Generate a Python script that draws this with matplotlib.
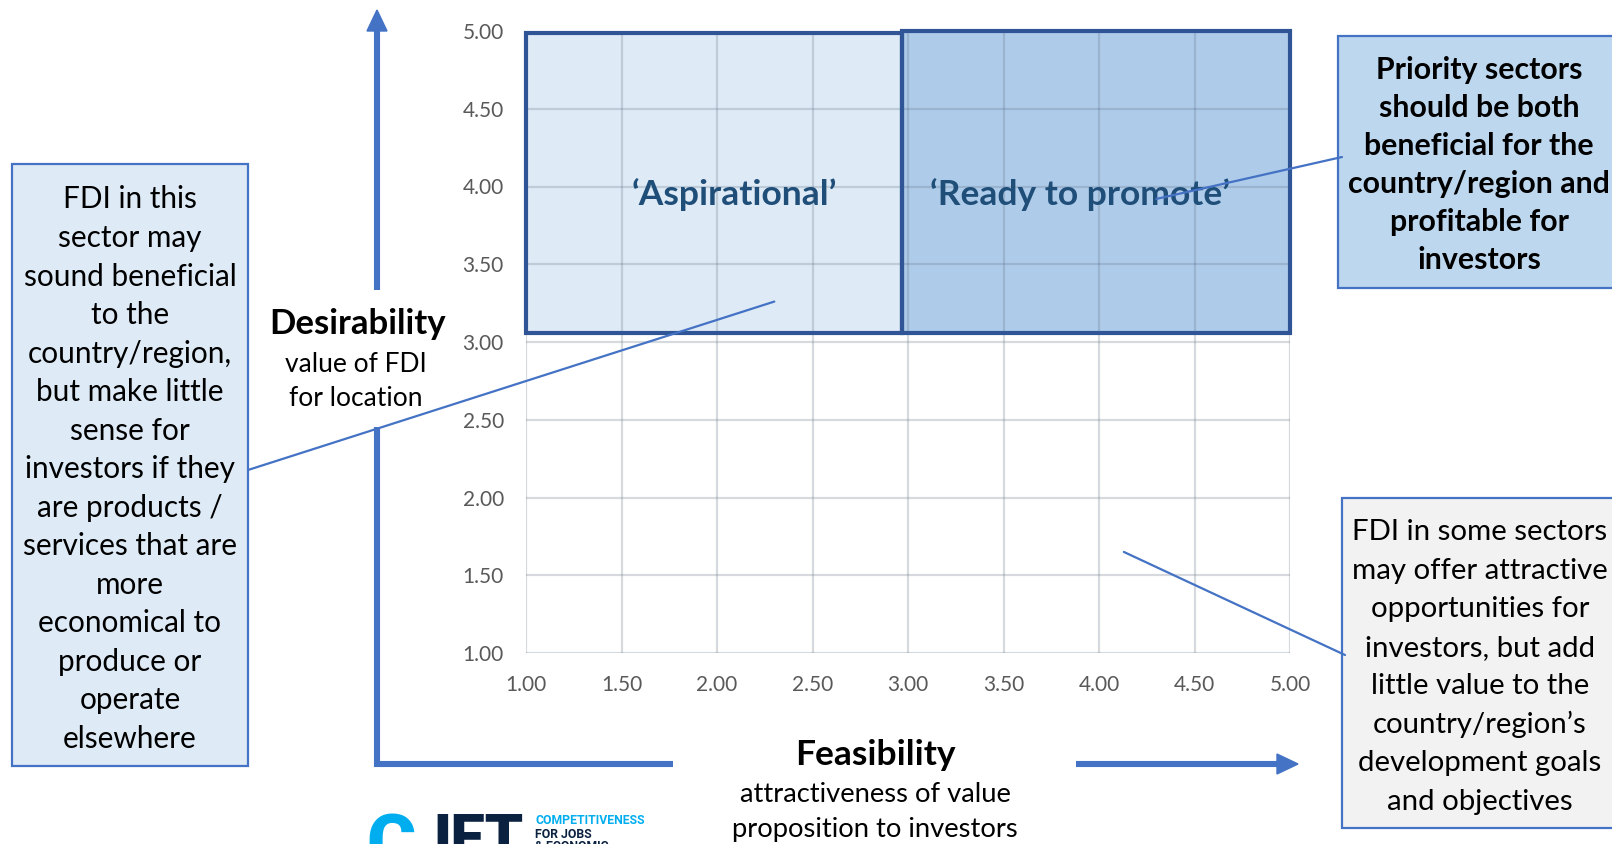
import matplotlib.pyplot as plt
from matplotlib.patches import Rectangle, Polygon

plt.rcParams['font.family'] = ['Lato', 'DejaVu Sans']

# quadrant boxes (data units)
quad_names = ["\u2018Aspirational\u2019", "\u2018Ready to promote\u2019"]
quad_x0 = [1.0, 2.97]
quad_x1 = [2.97, 5.0]
quad_y0 = [3.06, 3.06]
quad_y1 = [4.99, 5.0]
quad_fill = ['#DEEAF6', '#AECBEA']
quad_label_x = [2.09, 3.90]
quad_label_y = [3.95, 3.95]

ticks = [1.00, 1.50, 2.00, 2.50, 3.00, 3.50, 4.00, 4.50, 5.00]

left_note = ["FDI in this", "sector may", "sound beneficial", "to the",
             "country/region,", "but make little", "sense for",
             "investors if they", "are products /", "services that are",
             "more", "economical to", "produce or", "operate", "elsewhere"]
priority_note = ["Priority sectors", "should be both", "beneficial for the",
                 "country/region and", "profitable for", "investors"]
feasible_note = ["FDI in some sectors", "may offer attractive",
                 "opportunities for", "investors, but add",
                 "little value to the", "country/region\u2019s",
                 "development goals", "and objectives"]

# where each callout points inside the plot (data units)
callout_pts = [(2.30, 3.26), (4.30, 3.92), (4.13, 1.65)]

W, H = 1612, 844
BLUE = '#4472C4'

fig = plt.figure(figsize=(W / 100, H / 100), dpi=100)
ax = fig.add_axes([526 / W, (H - 653) / H, (1290 - 526) / W, (653 - 31) / H])
ax.set_xlim(1, 5)
ax.set_ylim(1, 5)
ax.set_xticks(ticks)
ax.set_yticks(ticks)
ax.set_xticklabels([f'{t:.2f}' for t in ticks])
ax.set_yticklabels([f'{t:.2f}' for t in ticks])
ax.tick_params(length=0, labelsize=15, labelcolor='#595959')
ax.tick_params(axis='y', pad=16)
ax.tick_params(axis='x', pad=15.5)
for s in ax.spines.values():
    s.set_visible(False)
ax.grid(True, color='#5F6F82', alpha=0.25, lw=1.6, zorder=2)
ax.set_axisbelow(False)

for i in range(len(quad_names)):
    ax.add_patch(Rectangle((quad_x0[i], quad_y0[i]), quad_x1[i] - quad_x0[i],
                           quad_y1[i] - quad_y0[i], fc=quad_fill[i], ec='none',
                           zorder=1))
for i in range(len(quad_names)):
    ax.add_patch(Rectangle((quad_x0[i], quad_y0[i]), quad_x1[i] - quad_x0[i],
                           quad_y1[i] - quad_y0[i], fc='none', ec='#2F5597',
                           lw=3.0, zorder=4, clip_on=False))
    ax.text(quad_label_x[i], quad_label_y[i], quad_names[i], ha='center',
            va='center', fontsize=25.5, fontweight='bold', color='#1F4E79',
            zorder=5)

# overlay in pixel units for the surrounding notes and arrows
ov = fig.add_axes([0, 0, 1, 1])
ov.set_xlim(0, W)
ov.set_ylim(H, 0)
ov.axis('off')
ov.patch.set_alpha(0)
ov.set_zorder(3)


def note(lines, cx, cy, step, **kw):
    top = cy - step * (len(lines) - 1) / 2
    for k, line in enumerate(lines):
        ov.text(cx, top + k * step, line, ha='center', va='center',
                color='black', **kw)


ov.add_patch(Rectangle((12, 164), 236, 602, fc='#DEEBF7', ec=BLUE, lw=1.6))
ov.add_patch(Rectangle((1338, 36), 300, 252, fc='#BDD7EE', ec=BLUE, lw=1.6))
ov.add_patch(Rectangle((1342, 498), 300, 330, fc='#F2F2F2', ec=BLUE, lw=1.6))
note(left_note, 130, 469, 38.5, fontsize=21.4)
note(priority_note, 1479, 165, 38, fontsize=21.8, fontweight='bold')
note(feasible_note, 1480, 667, 38.5, fontsize=21.2)

# callout leaders
starts = [(248, 470), (1342, 157), (1345, 655)]
for (sx, sy), pt in zip(starts, callout_pts):
    ov.annotate('', xy=pt, xycoords=ax.transData, xytext=(sx, sy),
                textcoords='data',
                arrowprops=dict(arrowstyle='-', color=BLUE, lw=1.6,
                                shrinkA=0, shrinkB=0))

# axis arrows
lw = 4.4
ov.plot([377, 377], [290, 28], color=BLUE, lw=lw, solid_capstyle='butt')
ov.add_patch(Polygon([(367, 31), (387, 31), (377, 10)], color=BLUE))
ov.plot([377, 377, 673], [427, 764, 764], color=BLUE, lw=lw,
        solid_capstyle='butt', solid_joinstyle='miter')
ov.plot([1076, 1280], [764, 764], color=BLUE, lw=lw, solid_capstyle='butt')
ov.add_patch(Polygon([(1277, 754), (1277, 774), (1298, 764)], color=BLUE))

ov.text(358, 324, 'Desirability', ha='center', va='center', fontsize=25,
        fontweight='bold')
ov.text(356, 364, 'value of FDI', ha='center', va='center', fontsize=19)
ov.text(356, 399, 'for location', ha='center', va='center', fontsize=19)
ov.text(875, 755, 'Feasibility', ha='center', va='center', fontsize=25.5,
        fontweight='bold')
ov.text(875, 795, 'attractiveness of value', ha='center', va='center',
        fontsize=19.7)
ov.text(875, 830, 'proposition to investors', ha='center', va='center',
        fontsize=19.7)

# logo, cut by the bottom edge
ov.text(366, 811, 'C', ha='left', va='top', fontsize=54, fontweight='heavy',
        color='#00AEEF', family='Roboto')
ov.text(417, 812, 'JET', ha='left', va='top', fontsize=44, fontweight='heavy',
        color='#0A2240', family='Roboto')
ov.text(535, 821, 'COMPETITIVENESS', ha='left', va='center', fontsize=8.8,
        fontweight='bold', color='#00AEEF', family='Roboto')
ov.text(535, 834, 'FOR JOBS', ha='left', va='center', fontsize=8.8,
        fontweight='bold', color='#0A2240', family='Roboto')
ov.text(535, 847, '& ECONOMIC', ha='left', va='center', fontsize=8.8,
        fontweight='bold', color='#0A2240', family='Roboto')

fig.savefig('out.png', dpi=100)
